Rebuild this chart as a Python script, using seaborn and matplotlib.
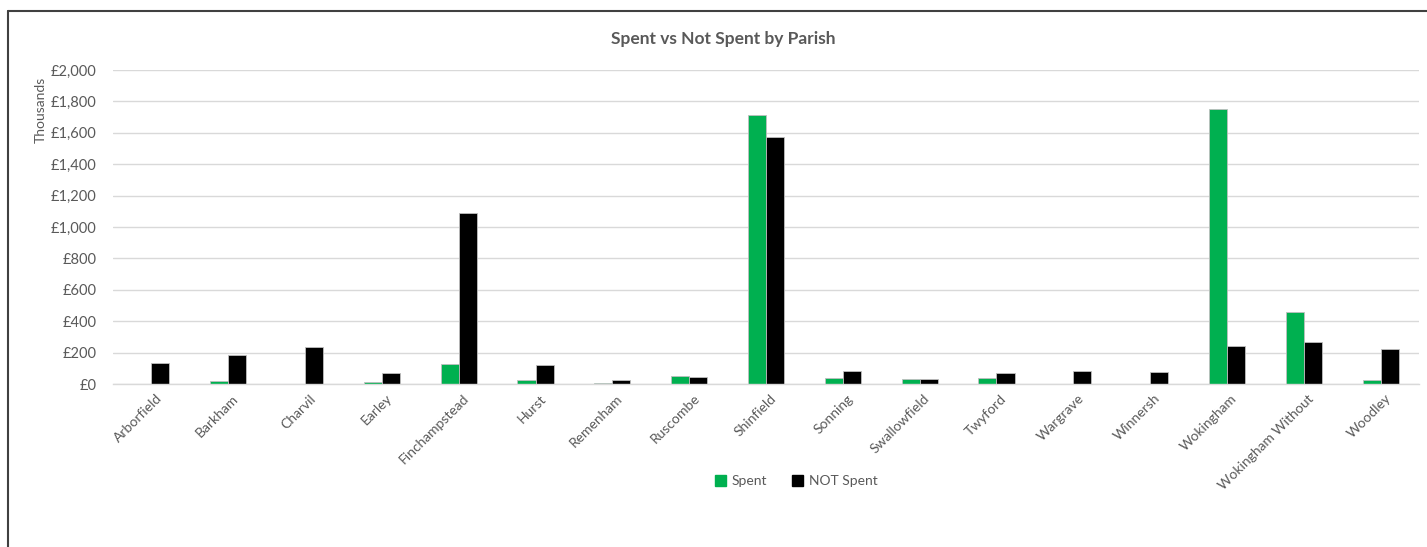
import matplotlib
matplotlib.use("Agg")
import matplotlib.pyplot as plt
import matplotlib.transforms as mtransforms
import seaborn as sns
import pandas as pd
from matplotlib.lines import Line2D
from matplotlib.ticker import FuncFormatter, MultipleLocator

parishes = ["Arborfield", "Barkham", "Charvil", "Earley", "Finchampstead", "Hurst",
            "Remenham", "Ruscombe", "Shinfield", "Sonning", "Swallowfield", "Twyford",
            "Wargrave", "Winnersh", "Wokingham", "Wokingham Without", "Woodley"]
spent = [0, 19, 0, 10, 127, 25, 5, 51, 1711, 40, 32, 38, 0, 3, 1750, 457, 23]
not_spent = [132, 183, 236, 70, 1092, 121, 23, 45, 1571, 83, 32, 68, 85, 75, 240, 266, 221]
series_names = ["Spent", "NOT Spent"]
colors = ["#00B050", "#000000"]

df = pd.DataFrame({
    "Parish": parishes * 2,
    "Series": [series_names[0]] * len(parishes) + [series_names[1]] * len(parishes),
    "Value": spent + not_spent,
})

sns.set_theme(style="white")
plt.rcParams["font.family"] = ["Lato", "DejaVu Sans"]

fig = plt.figure(figsize=(14.27, 5.47), dpi=100)
ax = fig.add_axes([113 / 1427, 1 - 384 / 547, (1419 - 113) / 1427, (384 - 70) / 547])

sns.barplot(data=df, x="Parish", y="Value", hue="Series", palette=colors, saturation=1,
            width=0.47, ax=ax, edgecolor="#bfbfbf", linewidth=0.6, legend=False)

ax.set_ylim(0, 2000)
ax.set_xlim(-0.5, len(parishes) - 0.5)
ax.yaxis.set_major_locator(MultipleLocator(200))
ax.yaxis.set_major_formatter(FuncFormatter(lambda v, p: "£{:,.0f}".format(v)))
ax.grid(axis="y", color="#d9d9d9", linewidth=1)
ax.set_axisbelow(True)
for s in ["top", "right", "left"]:
    ax.spines[s].set_visible(False)
ax.spines["bottom"].set_color("#d9d9d9")
ax.spines["bottom"].set_linewidth(1)
ax.tick_params(axis="both", length=0, colors="#595959")
ax.tick_params(axis="y", pad=12, labelsize=10.5)
ax.tick_params(axis="x", pad=6, labelsize=10)
ax.set_xlabel("")
ax.set_ylabel("")
offset = mtransforms.ScaledTranslation(4 / 100, 0, fig.dpi_scale_trans)
for lbl in ax.get_xticklabels():
    lbl.set_rotation(45)
    lbl.set_ha("right")
    lbl.set_rotation_mode("anchor")
    lbl.set_transform(lbl.get_transform() + offset)

fig.text(723 / 1427, 1 - 39 / 547, "Spent vs Not Spent by Parish", ha="center", va="center",
         fontsize=12.5, fontweight="bold", color="#595959")
fig.text(41 / 1427, 1 - 110 / 547, "Thousands", rotation=90, ha="center", va="center",
         fontsize=10, color="#595959")

handles = [plt.Rectangle((0, 0), 1, 1, color=c) for c in colors]
fig.legend(handles, series_names, loc="center", bbox_to_anchor=(796 / 1427, 1 - 481 / 547),
           ncol=2, frameon=False, fontsize=10, labelcolor="#595959",
           handlelength=0.8, handleheight=0.8, handletextpad=0.4, columnspacing=1.8)

fig.add_artist(Line2D([8 / 1427, 8 / 1427], [0, 1 - 11 / 547], transform=fig.transFigure,
                      color="#404040", linewidth=1.5))
fig.add_artist(Line2D([8 / 1427, 1], [1 - 11 / 547, 1 - 11 / 547], transform=fig.transFigure,
                      color="#404040", linewidth=1.5))

fig.savefig("out.png", dpi=100)
